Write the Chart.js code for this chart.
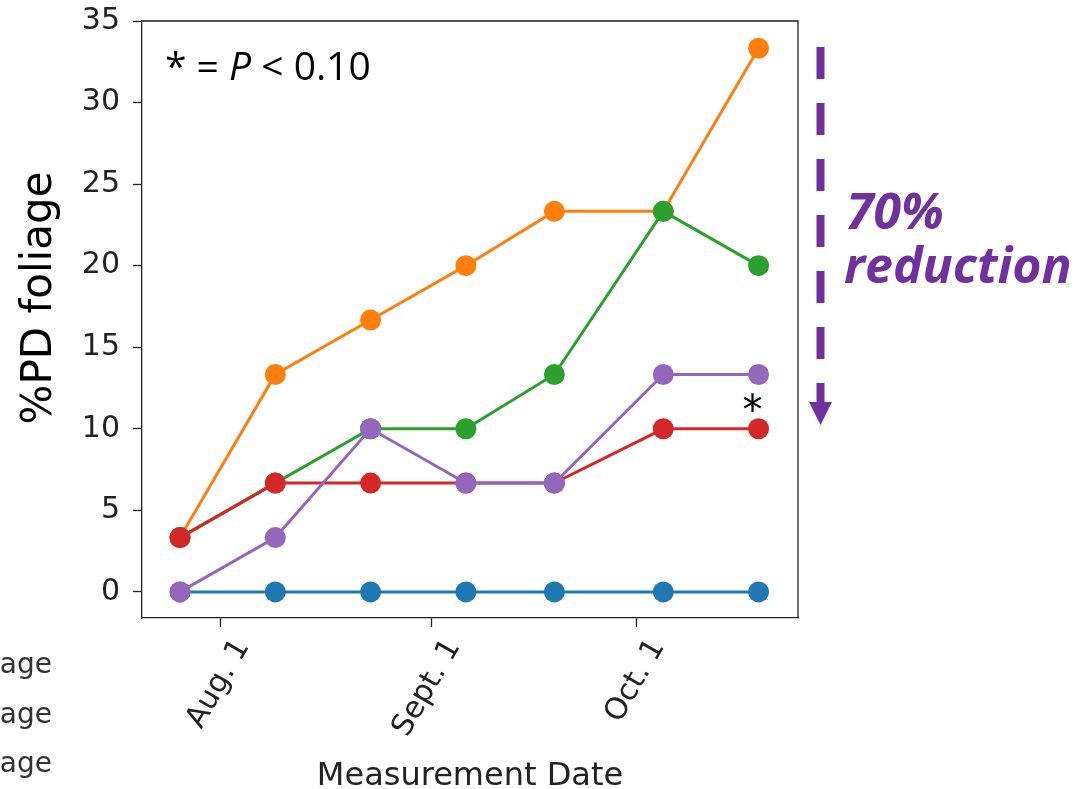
<!DOCTYPE html>
<html>
<head>
<meta charset="utf-8">
<script src="https://cdn.jsdelivr.net/npm/chart.js@4"></script>
<style>
  body { margin: 0; background: #fff; }
  #wrap { width: 1085px; height: 789px; position: relative; }
</style>
</head>
<body>
<div id="wrap"><canvas id="pdChart"></canvas></div>
<script>
// Dates de mesure
const measureDates = ['2019-07-26', '2019-08-09', '2019-08-23', '2019-09-06', '2019-09-19', '2019-10-05', '2019-10-19'];

// %PD foliage par traitement
const seriesBlue   = [0, 0, 0, 0, 0, 0, 0];
const seriesOrange = [3.33, 13.33, 16.67, 20, 23.33, 23.33, 33.33];
const seriesGreen  = [3.33, 6.67, 10, 10, 13.33, 23.33, 20];
const seriesRed    = [3.33, 6.67, 6.67, 6.67, 6.67, 10, 10];
const seriesPurple = [0, 3.33, 10, 6.67, 6.67, 13.33, 13.33];

// Axes
const xTickDates  = ['2019-08-01', '2019-09-01', '2019-10-01'];
const xTickLabels = ['Aug. 1', 'Sept. 1', 'Oct. 1'];
const xLimits     = ['2019-07-20T10:00:00Z', '2019-10-24T19:00:00Z'];
const yTicks      = [0, 5, 10, 15, 20, 25, 30, 35];
const yLimits     = [-1.6, 35];

const legendStubs = ['age', 'age', 'age'];

const DAY = 86400000;
function toDay(s) {
    return Date.parse(s.length === 10 ? s + 'T00:00:00Z' : s) / DAY;
}
const xDays = measureDates.map(toDay);
const xTickDays = xTickDates.map(toDay);

function makeSeries(values, color, order) {
    return {
        data: values.map((v, i) => ({ x: xDays[i], y: v })),
        borderColor: color,
        backgroundColor: color,
        borderWidth: 3,
        pointRadius: 10.5,
        pointHoverRadius: 10.5,
        pointBorderWidth: 0,
        tension: 0,
        order: order
    };
}

const purple = '#7030A0';
const dejavu = '"DejaVu Sans", sans-serif';

// Annotations dessinées par-dessus le graphique
const annotations = {
    id: 'annotations',
    afterDraw(chart) {
        const { ctx, chartArea: a, scales } = chart;
        ctx.save();

        // cadre haut et droit
        ctx.strokeStyle = '#222';
        ctx.lineWidth = 1.3;
        ctx.beginPath();
        ctx.moveTo(a.left, a.top);
        ctx.lineTo(a.right, a.top);
        ctx.lineTo(a.right, a.bottom);
        ctx.stroke();

        // titres des axes
        ctx.fillStyle = '#000';
        ctx.font = '42px ' + dejavu;
        ctx.textAlign = 'center';
        ctx.textBaseline = 'alphabetic';
        ctx.save();
        ctx.translate(51, 298);
        ctx.rotate(-Math.PI / 2);
        ctx.fillText('%PD foliage', 0, 0);
        ctx.restore();

        ctx.fillStyle = '#222';
        ctx.font = '32px ' + dejavu;
        ctx.fillText('Measurement Date', (a.left + a.right) / 2, 785);

        // légende coupée à gauche
        ctx.fillStyle = '#333';
        ctx.font = '28px ' + dejavu;
        ctx.textAlign = 'right';
        legendStubs.forEach((t, i) => ctx.fillText(t, 52, 673 + i * 49.5));

        // * = P < 0.10
        ctx.fillStyle = '#000';
        ctx.textAlign = 'left';
        const parts = [
            { t: '* = ', f: '39px "Open Sans", sans-serif' },
            { t: 'P', f: 'italic 39px "Open Sans", sans-serif' },
            { t: ' < 0.10', f: '39px "Open Sans", sans-serif' }
        ];
        let px = 165;
        parts.forEach(p => {
            ctx.font = p.f;
            ctx.fillText(p.t, px, 80);
            px += ctx.measureText(p.t).width;
        });

        // astérisque au-dessus du dernier point rouge
        const lastX = scales.x.getPixelForValue(xDays[xDays.length - 1]);
        const lastY = scales.y.getPixelForValue(seriesRed[seriesRed.length - 1]);
        ctx.font = '40px ' + dejavu;
        ctx.textAlign = 'center';
        ctx.fillText('*', lastX - 6, lastY - 5);

        // flèche pointillée violette
        const ax = 820.5;
        ctx.strokeStyle = purple;
        ctx.lineWidth = 8;
        ctx.setLineDash([32, 24]);
        ctx.beginPath();
        ctx.moveTo(ax, 47);
        ctx.lineTo(ax, 403);
        ctx.stroke();
        ctx.setLineDash([]);
        ctx.fillStyle = purple;
        ctx.beginPath();
        ctx.moveTo(ax - 11.5, 402);
        ctx.lineTo(ax + 11.5, 402);
        ctx.lineTo(ax, 425);
        ctx.closePath();
        ctx.fill();

        // 70% reduction
        ctx.font = 'italic bold 50px "Open Sans", sans-serif';
        ctx.textAlign = 'left';
        ctx.fillText('70%', 846, 229);
        ctx.fillText('reduction', 844, 283);

        ctx.restore();
    }
};

new Chart(document.getElementById('pdChart'), {
    type: 'line',
    data: {
        datasets: [
            makeSeries(seriesBlue, '#1f77b4', 5),
            makeSeries(seriesOrange, '#ff7f0e', 4),
            makeSeries(seriesGreen, '#2ca02c', 3),
            makeSeries(seriesRed, '#d62728', 2),
            makeSeries(seriesPurple, '#9467bd', 1)
        ]
    },
    options: {
        responsive: true,
        maintainAspectRatio: false,
        animation: false,
        layout: { padding: { left: 0, top: 21, right: 287, bottom: 0 } },
        plugins: {
            legend: { display: false },
            tooltip: { enabled: false }
        },
        scales: {
            x: {
                type: 'linear',
                min: toDay(xLimits[0]),
                max: toDay(xLimits[1]),
                afterBuildTicks: scale => {
                    scale.ticks = xTickDays.map(v => ({ value: v }));
                },
                afterFit: scale => {
                    scale.height = 171;
                    scale.paddingLeft = 0;
                    scale.paddingRight = 0;
                },
                grid: { drawOnChartArea: false, tickLength: 9, tickColor: '#222', tickWidth: 1.3 },
                border: { color: '#222', width: 1.3 },
                ticks: {
                    autoSkip: false,
                    minRotation: 60,
                    maxRotation: 60,
                    padding: 6,
                    labelOffset: 22,
                    color: '#222',
                    font: { family: 'DejaVu Sans', size: 30 },
                    callback: v => xTickLabels[xTickDays.indexOf(v)]
                }
            },
            y: {
                min: yLimits[0],
                max: yLimits[1],
                afterBuildTicks: scale => {
                    scale.ticks = yTicks.map(v => ({ value: v }));
                },
                afterFit: scale => {
                    scale.width = 142;
                    scale.paddingTop = 0;
                    scale.paddingBottom = 0;
                },
                grid: { drawOnChartArea: false, tickLength: 9, tickColor: '#222', tickWidth: 1.3 },
                border: { color: '#222', width: 1.3 },
                ticks: {
                    padding: 13,
                    color: '#222',
                    font: { family: 'DejaVu Sans', size: 30 },
                    callback: v => String(v)
                }
            }
        }
    },
    plugins: [annotations]
});
</script>
</body>
</html>
